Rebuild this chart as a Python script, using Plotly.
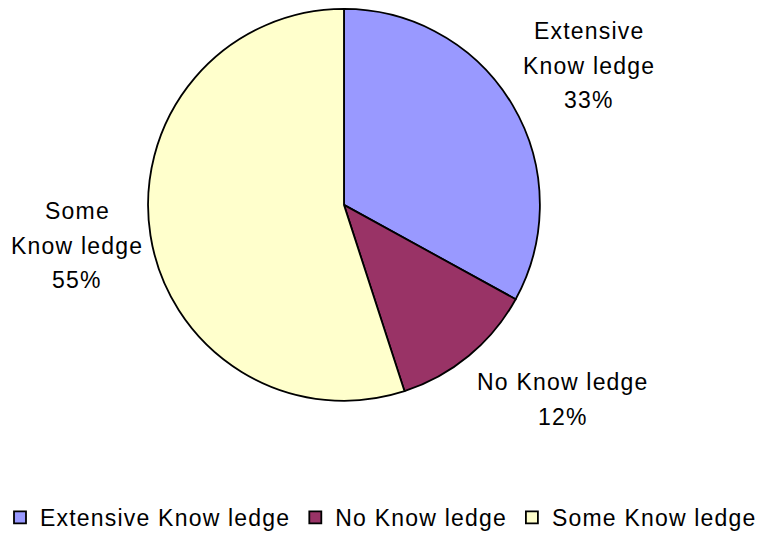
import plotly.graph_objects as go

# Survey responses: level of knowledge
categories = ["Extensive Know ledge", "No Know ledge", "Some Know ledge"]
label_lines = [["Extensive", "Know ledge"], ["No Know ledge"], ["Some", "Know ledge"]]
values = [33, 12, 55]
colors = ["#9999FF", "#993366", "#FFFFCC"]

W, H = 758, 539
FONT = "Liberation Sans, Arial, sans-serif"
SPACING = "letter-spacing:1.2px"


def spaced(s):
    return f'<span style="{SPACING}">{s}</span>'


fig = go.Figure()
fig.add_trace(go.Pie(
    labels=[spaced(c) for c in categories],
    values=values,
    sort=False,
    direction="clockwise",
    rotation=0,
    marker=dict(colors=colors, line=dict(color="#000000", width=1.8)),
    textinfo="none",
    hoverinfo="label+percent",
    domain=dict(x=[0.1939, 0.7137], y=[0.2523, 0.9833]),
))

# Outside data labels (category name + percentage), one annotation per line
label_center_x = [589, 563, 77]
label_top_y = [31, 384, 212]
LINE_STEP = 35
total = sum(values)
for lines, v, cx, ty in zip(label_lines, values, label_center_x, label_top_y):
    rows = lines + [f"{round(100 * v / total)}%"]
    for i, row in enumerate(rows):
        fig.add_annotation(
            x=cx / W, y=1 - (ty + i * LINE_STEP) / H,
            xref="paper", yref="paper",
            text=spaced(row),
            showarrow=False, align="center",
            xanchor="center", yanchor="middle",
            font=dict(family=FONT, size=23, color="#000000"),
        )

fig.update_layout(
    width=W, height=H,
    margin=dict(l=0, r=0, t=0, b=0),
    paper_bgcolor="white",
    plot_bgcolor="white",
    font=dict(family=FONT, size=23, color="#000000"),
    showlegend=True,
    legend=dict(
        orientation="h",
        x=0.517, xanchor="center",
        y=0.034, yanchor="middle",
        font=dict(family=FONT, size=23, color="#000000"),
        traceorder="normal",
    ),
)

fig.write_html("out.html")
